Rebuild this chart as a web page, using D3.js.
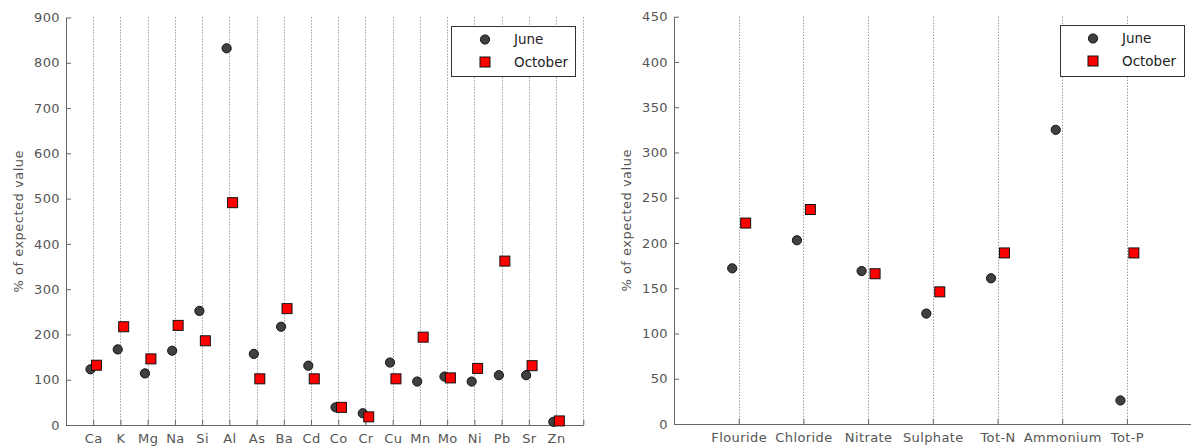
<!DOCTYPE html>
<html>
<head>
<meta charset="utf-8">
<script src="https://cdn.jsdelivr.net/npm/d3@7"></script>
<style>
  html, body { margin: 0; padding: 0; background: #fff; }
  svg { display: block; }
  text { font-family: "DejaVu Sans", sans-serif; }
</style>
</head>
<body>
<svg id="chart" width="1191" height="446"></svg>
<script>
// ---- Data ----
const elements = ["Ca","K","Mg","Na","Si","Al","As","Ba","Cd","Co","Cr","Cu","Mn","Mo","Ni","Pb","Sr","Zn"];
const juneElements = [123,167,114,164,252,832,157,217,131,39,26,138,96,107,96,110,110,7];
const octoberElements = [132,217,146,220,186,491,102,257,102,39,18,102,194,104,125,362,131,9];
const elementYTicks = [0,100,200,300,400,500,600,700,800,900];

const ions = ["Flouride","Chloride","Nitrate","Sulphate","Tot-N","Ammonium","Tot-P"];
const juneIons = [172,203,169,122,161,325,26];
const octoberIons = [222,237,166,146,189,null,189];
const ionYTicks = [0,50,100,150,200,250,300,350,400,450];

const seriesNames = ["June","October"];
const yLabel = "% of expected value";

const svg = d3.select("#chart");

function panel(cfg) {
  const g = svg.append("g");
  const x = d3.scaleLinear().domain([0, cfg.nSlots]).range([cfg.x0, cfg.x1]);
  const y = d3.scaleLinear().domain([0, cfg.yMax]).range([cfg.y0, cfg.y1]);

  // dotted vertical grid lines
  const gridVals = d3.range(1, cfg.gridMax + 1);
  g.append("g").selectAll("line").data(gridVals).join("line")
    .attr("x1", d => Math.round(x(d)) + 0.5).attr("x2", d => Math.round(x(d)) + 0.5)
    .attr("y1", y(cfg.yMax)).attr("y2", y(0))
    .attr("stroke", "#6e6e6e").attr("stroke-width", 1)
    .attr("stroke-dasharray", "1,2");

  // axes
  const yAxis = d3.axisLeft(y).tickValues(cfg.yTicks).tickSizeInner(-5).tickSizeOuter(0).tickPadding(6);
  const ya = g.append("g").attr("transform", `translate(${cfg.x0},0)`).call(yAxis);
  const xAxis = d3.axisBottom(x).tickValues(gridVals).tickSizeInner(-5).tickSizeOuter(0).tickPadding(9)
    .tickFormat(d => cfg.cats[d - 1] || "");
  const xa = g.append("g").attr("transform", `translate(0,${cfg.y0})`).call(xAxis);
  [ya, xa].forEach(a => {
    a.select(".domain").attr("stroke", "#666");
    a.selectAll(".tick line").attr("stroke", "#666");
    a.selectAll(".tick text").attr("fill", "#555").style("font-size", "13px")
      .style("letter-spacing", "0.4px")
      .style("font-family", "'DejaVu Sans', sans-serif");
  });

  // y label
  g.append("text")
    .attr("transform", `translate(${cfg.labelX},${(cfg.y0 + cfg.y1) / 2}) rotate(-90)`)
    .attr("text-anchor", "middle").attr("dy", "0.35em")
    .attr("fill", "#555").style("font-size", "13px").style("letter-spacing", "0.5px")
    .text(yLabel);

  // markers
  const june = cfg.june.map((v, i) => ({ i: i + 1, v })).filter(d => d.v != null);
  const oct = cfg.oct.map((v, i) => ({ i: i + 1, v })).filter(d => d.v != null);
  g.append("g").selectAll("circle").data(june).join("circle")
    .attr("cx", d => x(d.i - 0.1)).attr("cy", d => y(d.v)).attr("r", 4.6)
    .attr("fill", "#404040").attr("stroke", "#111").attr("stroke-width", 1);
  const s = 10;
  g.append("g").selectAll("rect").data(oct).join("rect")
    .attr("x", d => x(d.i + 0.1) + 0.5 - s / 2).attr("y", d => y(d.v) - s / 2)
    .attr("width", s).attr("height", s)
    .attr("fill", "#ff0000").attr("stroke", "#111").attr("stroke-width", 1);

  // legend
  const L = cfg.legend;
  const lg = g.append("g");
  lg.append("rect").attr("x", L.x + 0.5).attr("y", L.y + 0.5).attr("width", L.w).attr("height", L.h)
    .attr("fill", "#fff").attr("stroke", "#333").attr("stroke-width", 1);
  lg.append("circle").attr("cx", L.mx).attr("cy", L.y + 13.5).attr("r", 4.6)
    .attr("fill", "#404040").attr("stroke", "#111");
  lg.append("rect").attr("x", L.mx - s / 2).attr("y", L.y + 36 - s / 2).attr("width", s).attr("height", s)
    .attr("fill", "#ff0000").attr("stroke", "#111");
  seriesNames.forEach((n, k) => {
    lg.append("text").attr("x", L.tx).attr("y", L.y + 13.5 + k * 22.5).attr("dy", "0.36em")
      .attr("fill", "#222").style("font-size", "13.5px").text(n);
  });
}

panel({
  cats: elements, june: juneElements, oct: octoberElements, yTicks: elementYTicks,
  nSlots: 19, gridMax: 19, yMax: 900,
  x0: 66, x1: 583.3, y0: 425, y1: 17.5, labelX: 18,
  legend: { x: 451, y: 26, w: 124, h: 50, mx: 485, tx: 514 }
});

panel({
  cats: ions, june: juneIons, oct: octoberIons, yTicks: ionYTicks,
  nSlots: 8, gridMax: 7, yMax: 450,
  x0: 674, x1: 1191.6, y0: 424, y1: 16.7, labelX: 626,
  legend: { x: 1060, y: 25, w: 124, h: 51, mx: 1093, tx: 1122 }
});
</script>
</body>
</html>
